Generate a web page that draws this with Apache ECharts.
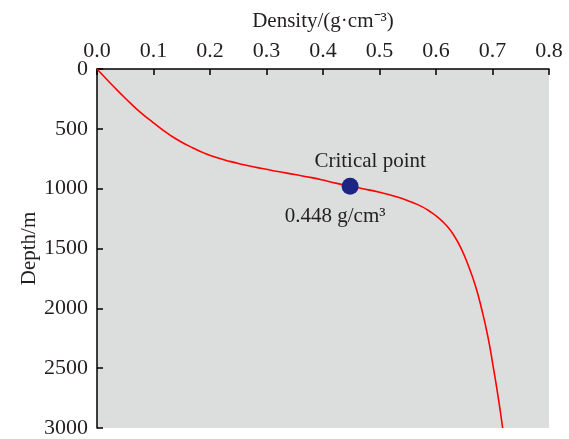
<!DOCTYPE html>
<html>
<head>
<meta charset="utf-8">
<script src="https://cdn.jsdelivr.net/npm/echarts@6/dist/echarts.min.js"></script>
<style>
  html, body { margin: 0; padding: 0; background: #ffffff; }
  #chart { width: 569px; height: 439px; }
</style>
</head>
<body>
<div id="chart"></div>
<script>
// Density profile versus depth
const density = [0, 0.02, 0.04, 0.06, 0.08, 0.10, 0.115, 0.13, 0.15, 0.17, 0.19, 0.21, 0.235, 0.26, 0.29, 0.32, 0.35, 0.38, 0.41, 0.448, 0.47, 0.50, 0.53, 0.555, 0.575, 0.59, 0.605, 0.618, 0.631, 0.644, 0.657, 0.670, 0.681, 0.692, 0.701, 0.710, 0.718];
const depth   = [0, 100, 197, 290, 375, 450, 505, 555, 612, 660, 703, 738, 772, 800, 830, 857, 882, 908, 940, 980, 1000, 1030, 1068, 1110, 1150, 1193, 1246, 1305, 1385, 1495, 1640, 1815, 2010, 2240, 2480, 2740, 3000];

// Critical point
const criticalDensity = 0.448;
const criticalDepth = 980;

const xTicks = [0, 0.1, 0.2, 0.3, 0.4, 0.5, 0.6, 0.7, 0.8];
const yTicks = [0, 500, 1000, 1500, 2000, 2500, 3000];

const FONT = '"Liberation Serif", "Times New Roman", serif';
const INK = '#231f20';
const SIZE = 21;
const TICK_SIZE = 22;

const chart = echarts.init(document.getElementById('chart'), null, { renderer: 'canvas' });

chart.setOption({
  animation: false,
  grid: {
    left: 97, top: 69, right: 20, bottom: 6,
    show: true, backgroundColor: '#dcdddd', borderWidth: 0
  },
  xAxis: {
    type: 'value',
    position: 'top',
    min: xTicks[0], max: xTicks[xTicks.length - 1], interval: 0.1,
    name: 'Density/(g·cm⁻³)',
    nameLocation: 'middle',
    nameGap: 37,
    nameTextStyle: { fontFamily: FONT, fontSize: SIZE, color: INK },
    axisLine: { show: true, lineStyle: { color: '#000', width: 1.5 } },
    axisTick: { show: true, inside: true, length: 6, lineStyle: { color: '#000', width: 1.5 } },
    axisLabel: {
      fontFamily: FONT, fontSize: TICK_SIZE, color: INK, margin: 7,
      formatter: v => v.toFixed(1)
    },
    splitLine: { show: false }
  },
  yAxis: {
    type: 'value',
    inverse: true,
    min: yTicks[0], max: yTicks[yTicks.length - 1], interval: 500,
    name: 'Depth/m',
    nameLocation: 'middle',
    nameGap: 57,
    nameMoveOverlap: false,
    nameTextStyle: { fontFamily: FONT, fontSize: SIZE, color: INK },
    axisLine: { show: true, lineStyle: { color: '#000', width: 1.5 } },
    axisTick: { show: true, inside: true, length: 6, lineStyle: { color: '#000', width: 1.5 } },
    axisLabel: {
      fontFamily: FONT, fontSize: TICK_SIZE, color: INK, margin: 9,
      formatter: v => String(v)
    },
    splitLine: { show: false }
  },
  series: [
    {
      type: 'line',
      data: density.map((d, i) => [d, depth[i]]),
      smooth: 0.5,
      showSymbol: false,
      lineStyle: { color: '#ff0000', width: 1.6 },
      z: 2
    },
    {
      type: 'scatter',
      data: [[criticalDensity, criticalDepth]],
      symbolSize: 17,
      itemStyle: { color: '#1c2484', opacity: 1 },
      label: {
        show: true,
        formatter: 'Critical point',
        position: 'top',
        distance: 0,
        offset: [20, -6],
        fontFamily: FONT, fontSize: SIZE, color: INK
      },
      z: 3
    },
    {
      type: 'scatter',
      data: [[criticalDensity, criticalDepth]],
      symbolSize: 1,
      itemStyle: { color: 'rgba(0,0,0,0)', opacity: 1 },
      silent: true,
      label: {
        show: true,
        formatter: p => p.value[0].toFixed(3) + ' g/cm³',
        position: 'bottom',
        distance: 0,
        offset: [-15, 19],
        fontFamily: FONT, fontSize: SIZE, color: INK
      },
      z: 3
    }
  ]
});
</script>
</body>
</html>
